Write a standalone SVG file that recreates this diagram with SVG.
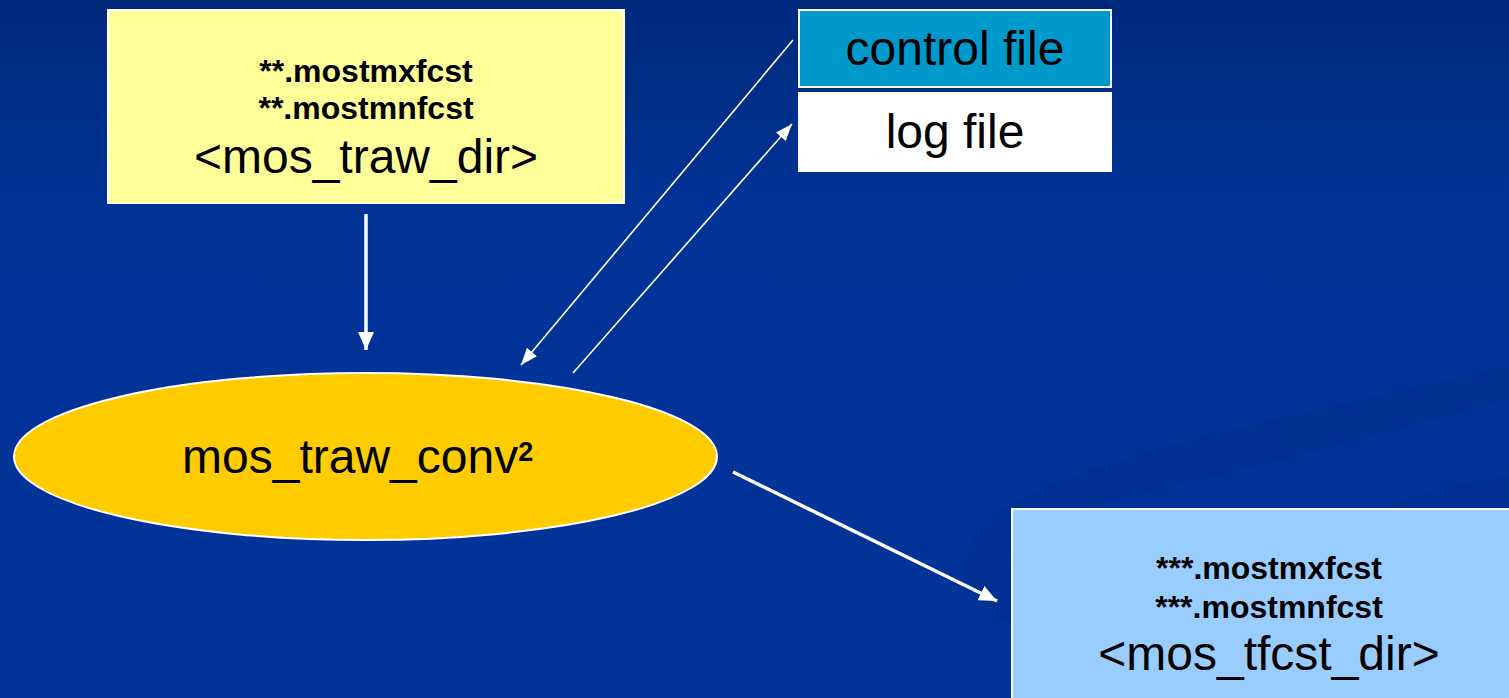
<svg xmlns="http://www.w3.org/2000/svg" width="1509" height="698" viewBox="0 0 1509 698">
  <defs>
    <linearGradient id="bg" x1="0" y1="0" x2="0" y2="1">
      <stop offset="0" stop-color="#00297c"/>
      <stop offset="0.3" stop-color="#003396"/>
      <stop offset="1" stop-color="#003399"/>
    </linearGradient>
    <marker id="headThick" markerUnits="userSpaceOnUse" viewBox="0 0 18 16" markerWidth="18" markerHeight="16" refX="18" refY="8" orient="auto">
      <path d="M0 0 L18 8 L0 16 Z" fill="#ffffff"/>
    </marker>
    <marker id="headThin" markerUnits="userSpaceOnUse" viewBox="0 0 17 13" markerWidth="17" markerHeight="13" refX="17" refY="6.5" orient="auto">
      <path d="M0 0 L17 6.5 L0 13 Z" fill="#ffffff"/>
    </marker>
    <style>
      .box { stroke: #ffffff; stroke-width: 2; }
      .big { font-family: "Liberation Sans", Arial, sans-serif; font-size: 48px; fill: #000000; text-anchor: middle; }
      .small { font-family: "Liberation Sans", Arial, sans-serif; font-size: 32px; font-weight: bold; fill: #000000; text-anchor: middle; }
      .thick { stroke: #ffffff; stroke-width: 3.5; fill: none; marker-end: url(#headThick); }
      .thin { stroke: #ffffff; stroke-width: 1.6; fill: none; marker-end: url(#headThin); }
    </style>
  </defs>

  <!-- background with the faint swoosh bands -->
  <rect x="0" y="0" width="1509" height="698" fill="url(#bg)"/>
  <path d="M1509 366 C1320 412 1120 445 1010 505 C955 535 948 590 1012 625 L1012 575 C995 545 1030 520 1120 498 C1260 466 1400 430 1509 398 Z" fill="#002f8c" opacity="0.6"/>
  <path d="M1509 475 C1450 486 1410 496 1375 509 L1509 509 Z" fill="#002f8c" opacity="0.6"/>

  <!-- connectors -->
  <g id="connectors">
    <line class="thick" x1="366" y1="214" x2="366" y2="350"/>
    <line class="thin" x1="793" y1="40" x2="521" y2="365"/>
    <line class="thin" x1="573" y1="373" x2="792" y2="124"/>
    <line class="thick" x1="733" y1="472" x2="997" y2="601"/>
  </g>

  <g id="node-traw-dir">
    <rect class="box" x="108" y="10" width="516" height="193" fill="#ffff99"/>
    <text class="small" x="366" y="82">**.mostmxfcst</text>
    <text class="small" x="366" y="119">**.mostmnfcst</text>
    <text class="big" x="366" y="173">&lt;mos_traw_dir&gt;</text>
  </g>

  <g id="node-control-file">
    <rect class="box" x="799" y="10" width="312" height="77" fill="#0099cc"/>
    <text class="big" x="955" y="65">control file</text>
  </g>

  <g id="node-log-file">
    <rect class="box" x="799" y="93" width="312" height="78" fill="#ffffff"/>
    <text class="big" x="955" y="148">log file</text>
  </g>

  <g id="node-traw-conv">
    <ellipse cx="365.5" cy="456.5" rx="351.5" ry="83.5" fill="#ffcc00" stroke="#ffffff" stroke-width="2"/>
    <text class="big" x="182" y="473" text-anchor="start" style="text-anchor:start">mos_traw_conv<tspan font-size="27" font-weight="bold" dy="-12">2</tspan></text>
  </g>

  <g id="node-tfcst-dir">
    <rect class="box" x="1012" y="509" width="510" height="200" fill="#99ccff"/>
    <text class="small" x="1269" y="579">***.mostmxfcst</text>
    <text class="small" x="1269" y="618">***.mostmnfcst</text>
    <text class="big" x="1269" y="670">&lt;mos_tfcst_dir&gt;</text>
  </g>
</svg>
